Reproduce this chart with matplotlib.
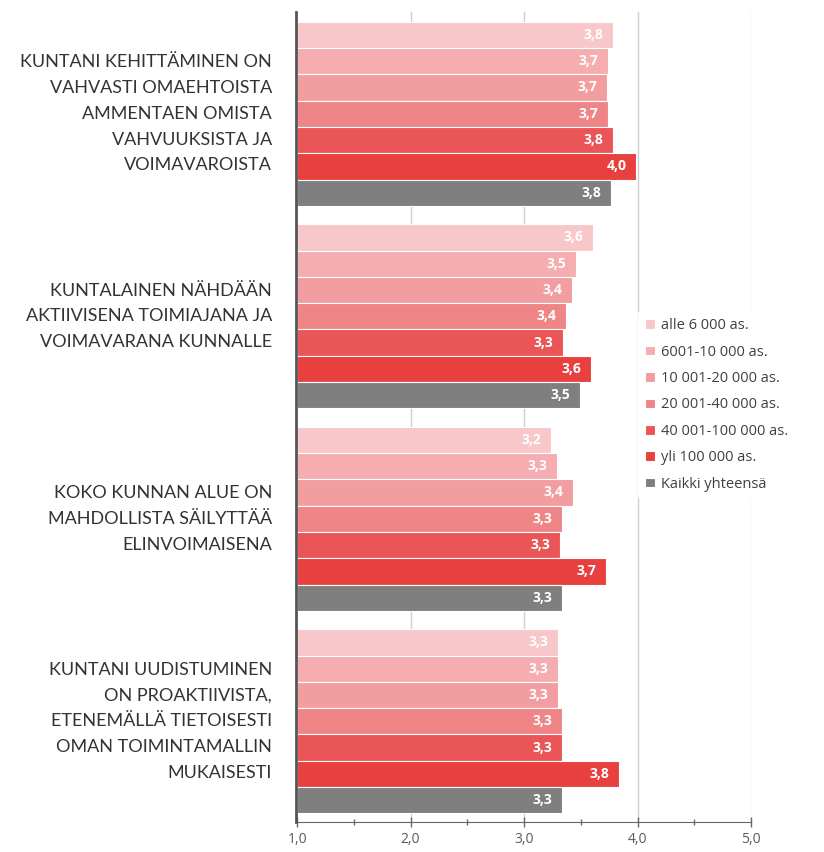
import matplotlib
matplotlib.use("Agg")
import matplotlib.pyplot as plt
import matplotlib.transforms as mtransforms
import numpy as np

categories = [
    "KUNTANI KEHITTÄMINEN ON\nVAHVASTI OMAEHTOISTA\nAMMENTAEN OMISTA\nVAHVUUKSISTA JA\nVOIMAVAROISTA",
    "KUNTALAINEN NÄHDÄÄN\nAKTIIVISENA TOIMIAJANA JA\nVOIMAVARANA KUNNALLE",
    "KOKO KUNNAN ALUE ON\nMAHDOLLISTA SÄILYTTÄÄ\nELINVOIMAISENA",
    "KUNTANI UUDISTUMINEN\nON PROAKTIIVISTA,\nETENEMÄLLÄ TIETOISESTI\nOMAN TOIMINTAMALLIN\nMUKAISESTI",
]

series_names = [
    "alle 6 000 as.",
    "6001-10 000 as.",
    "10 001-20 000 as.",
    "20 001-40 000 as.",
    "40 001-100 000 as.",
    "yli 100 000 as.",
    "Kaikki yhteensä",
]

alle_6000 = [3.78, 3.61, 3.24, 3.30]
s_6001_10000 = [3.74, 3.46, 3.29, 3.30]
s_10001_20000 = [3.73, 3.42, 3.43, 3.30]
s_20001_40000 = [3.74, 3.37, 3.33, 3.33]
s_40001_100000 = [3.78, 3.34, 3.32, 3.33]
yli_100000 = [3.99, 3.59, 3.72, 3.84]
kaikki = [3.77, 3.49, 3.33, 3.33]

series_values = [alle_6000, s_6001_10000, s_10001_20000, s_20001_40000,
                 s_40001_100000, yli_100000, kaikki]

colors = ["#f8c7ca", "#f5adb0", "#f29d9f", "#ef8587", "#ea5658", "#e8403f", "#7f7f7f"]

x_ticks = [1.0, 2.0, 3.0, 4.0, 5.0]
x_min = 1.0

fig = plt.figure(figsize=(8.24, 8.52), dpi=100)
ax = fig.add_axes([296 / 824, 1 - 822 / 852, 455 / 824, 810 / 852])

pitch = 7.7  # group pitch in bar heights
for j, (name, vals, col) in enumerate(zip(series_names, series_values, colors)):
    ys = [g * pitch + j for g in range(len(categories))]
    widths = [v - x_min for v in vals]
    ax.barh(ys, widths, left=x_min, height=1.0, color=col, edgecolor="white",
            linewidth=0.8, label=name, zorder=3)
    for y, v in zip(ys, vals):
        ax.text(v - 0.085, y, f"{v:.1f}".replace(".", ","), ha="right", va="center",
                color="white", fontsize=10, fontweight="bold", family="Open Sans", zorder=4)

ax.set_ylim(3 * pitch + 6.5 + 0.33, -0.5 - 0.37)
ax.set_xlim(0.99, 5.0)
ax.set_yticks([])

ax.set_xticks(x_ticks)
ax.set_xticklabels([f"{t:.1f}".replace(".", ",") for t in x_ticks],
                   fontsize=10, color="#5a5a5a", family="Open Sans")
ax.set_xticks(np.arange(1.5, 5.0, 1.0), minor=True)
ax.tick_params(axis="x", which="major", direction="inout", length=7, width=1,
               color="#666666", pad=4)
ax.tick_params(axis="x", which="minor", direction="inout", length=5, width=1,
               color="#666666")

for t in x_ticks[1:]:
    ax.axvline(t, color="#cfcfcf", linewidth=1, zorder=1)

for s in ["top", "right"]:
    ax.spines[s].set_visible(False)
ax.spines["bottom"].set_color("#666666")
ax.spines["left"].set_color("#555555")
ax.spines["left"].set_linewidth(2)
ax.spines["left"].set_zorder(5)

trans = mtransforms.blended_transform_factory(ax.transAxes, ax.transData)
for g, cat in enumerate(categories):
    ax.text(-24 / 455, g * pitch + 3, cat, transform=trans, ha="right", va="center",
            multialignment="right", fontsize=13, family="Lato", color="#333333",
            linespacing=1.75)

leg = fig.legend(loc="center left", bbox_to_anchor=(638 / 824, 1 - 405 / 852),
                 frameon=True, facecolor="white", edgecolor="none", framealpha=1,
                 handlelength=0.65, handleheight=0.65, handletextpad=0.4,
                 labelspacing=0.78, borderpad=0.5, borderaxespad=0,
                 prop={"family": "Open Sans", "size": 10.5})
for t in leg.get_texts():
    t.set_color("#404040")
leg.set_zorder(10)

fig.savefig("out.png", dpi=100)
